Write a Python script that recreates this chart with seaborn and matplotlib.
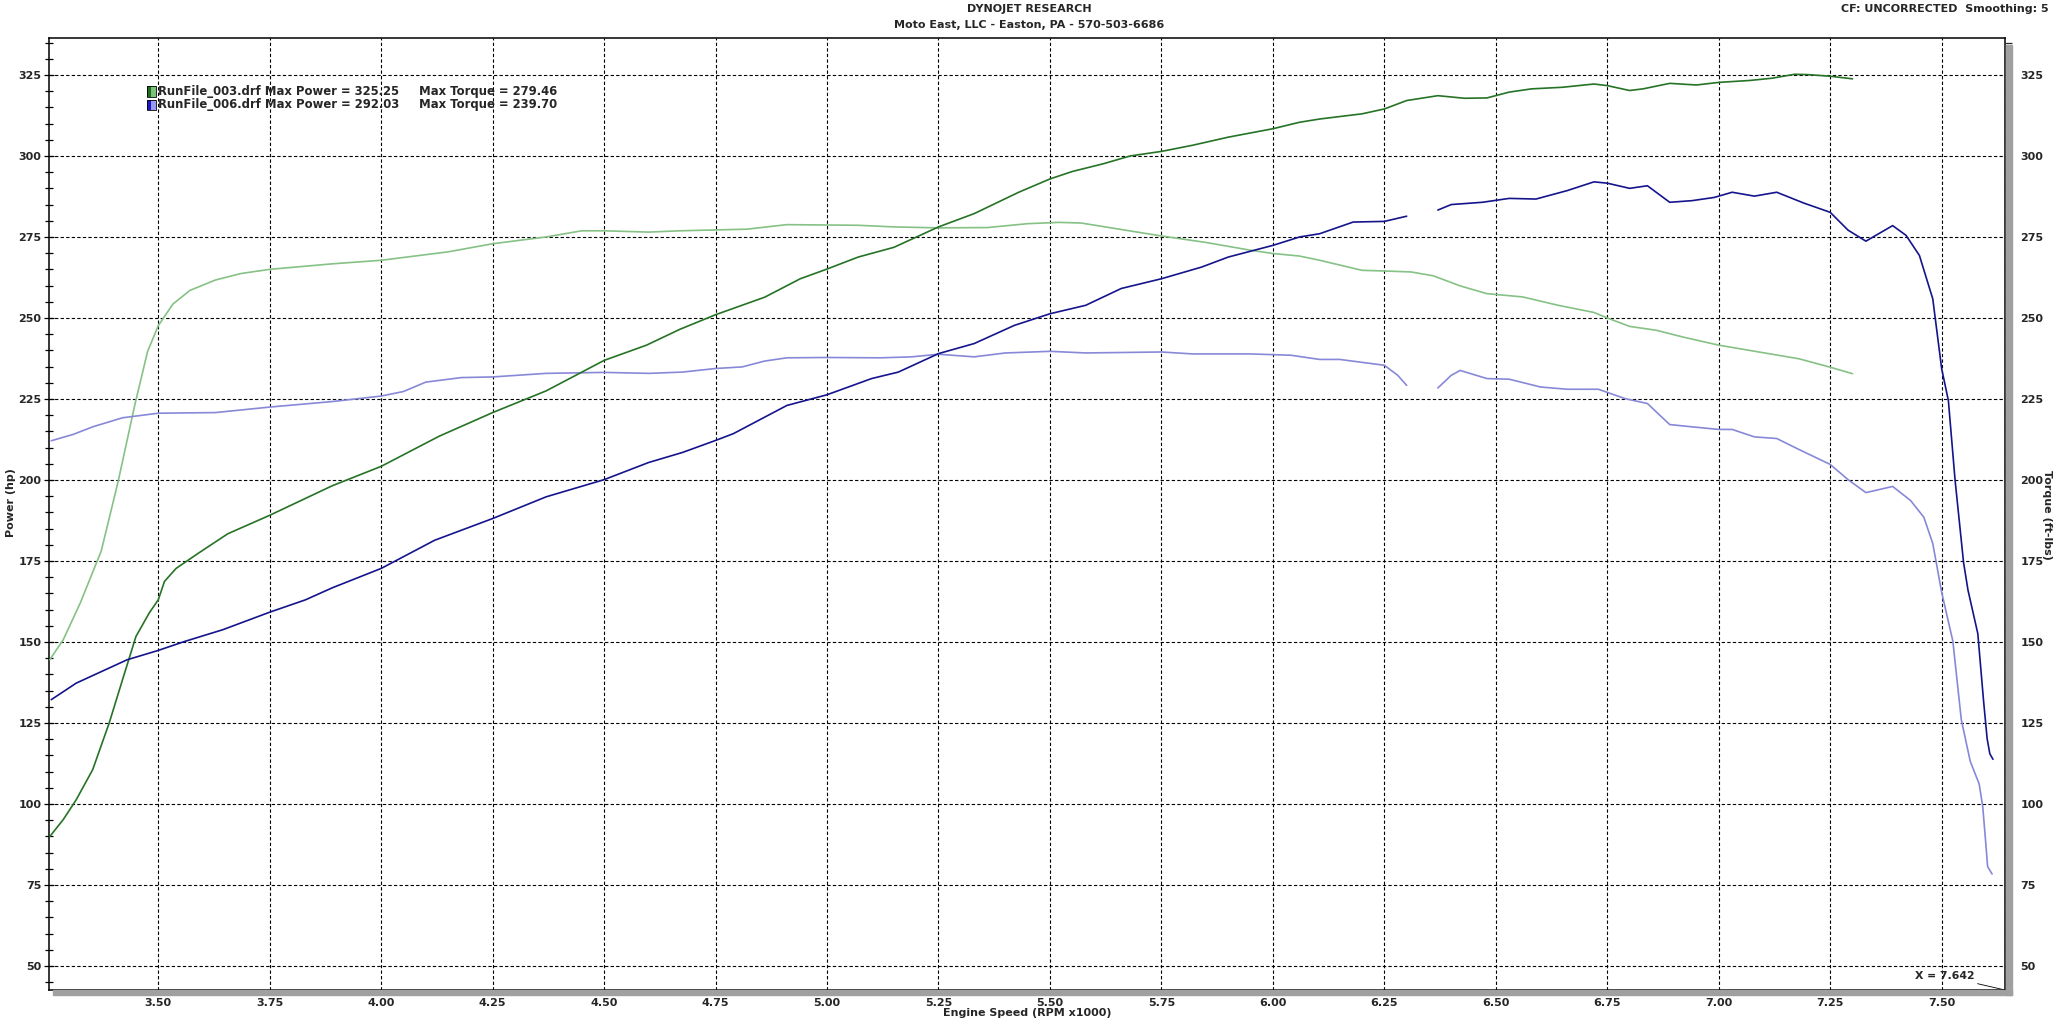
import numpy as np
import pandas as pd
import matplotlib
matplotlib.use("Agg")
import matplotlib.pyplot as plt
import seaborn as sns
from matplotlib.patches import Rectangle
from matplotlib.ticker import MultipleLocator, FixedLocator

# --- data (RPM x1000) ---
rpm_pwr_003 = [3.257, 3.287, 3.316, 3.353, 3.39, 3.42, 3.45, 3.48, 3.50, 3.514, 3.54, 3.59, 3.656,
               3.75, 3.89, 4.00, 4.13, 4.25, 4.37, 4.50, 4.595, 4.67, 4.75, 4.86, 4.94, 5.00, 5.07,
               5.15, 5.25, 5.33, 5.43, 5.50, 5.55, 5.62, 5.68, 5.75, 5.82, 5.90, 6.00, 6.06, 6.105,
               6.20, 6.25, 6.30, 6.37, 6.43, 6.48, 6.53, 6.58, 6.65, 6.72, 6.75, 6.80, 6.83, 6.89,
               6.95, 7.00, 7.07, 7.12, 7.17, 7.20, 7.25, 7.30]
pwr_003 = [90, 95.2, 101.3, 110.6, 125, 138.4, 151.7, 159, 163, 168.7, 172.7, 177.4, 183.4,
           189.1, 198.2, 204.2, 213.5, 220.8, 227.5, 236.9, 241.6, 246.5, 251, 256.4, 262.1, 265.1, 268.8,
           271.8, 278.1, 282.2, 288.8, 292.9, 295.2, 297.6, 300, 301.4, 303.3, 305.8, 308.4, 310.4, 311.4,
           313, 314.5, 317.1, 318.6, 317.8, 317.9, 319.7, 320.7, 321.2, 322.2, 321.7, 320.2, 320.7, 322.4,
           321.9, 322.7, 323.3, 324, 325.2, 325.1, 324.6, 323.8]

rpm_trq_003 = [3.257, 3.287, 3.325, 3.372, 3.41, 3.448, 3.476, 3.50, 3.533, 3.571, 3.628, 3.685, 3.75,
               3.89, 4.00, 4.15, 4.25, 4.37, 4.45, 4.50, 4.60, 4.67, 4.82, 4.91, 5.07, 5.15, 5.25,
               5.36, 5.45, 5.52, 5.57, 5.66, 5.75, 5.85, 5.95, 6.00, 6.06, 6.105, 6.20, 6.25, 6.31,
               6.36, 6.42, 6.48, 6.56, 6.64, 6.72, 6.75, 6.80, 6.86, 6.92, 7.00, 7.09, 7.18, 7.25, 7.30]
trq_003 = [144.6, 150.7, 162, 178, 199.5, 223.5, 239.6, 247.6, 254.3, 258.5, 261.7, 263.7, 265,
           266.7, 267.8, 270.4, 272.9, 275, 276.9, 276.9, 276.5, 276.9, 277.4, 278.8, 278.6, 278.1, 277.8,
           277.9, 279.1, 279.5, 279.3, 277.3, 275.3, 273.3, 270.9, 269.9, 269.1, 267.8, 264.7, 264.5, 264.2,
           263, 259.9, 257.5, 256.5, 253.9, 251.7, 250, 247.4, 246.2, 244.1, 241.6, 239.5, 237.4, 234.8, 232.8]

rpm_pwr_006 = [3.26, 3.316, 3.43, 3.50, 3.56, 3.645, 3.75, 3.83, 3.89, 4.00, 4.12, 4.25, 4.37, 4.50,
               4.60, 4.676, 4.75, 4.79, 4.91, 5.00, 5.10, 5.16, 5.25, 5.33, 5.42, 5.50, 5.58, 5.66,
               5.75, 5.84, 5.90, 6.00, 6.06, 6.105, 6.18, 6.25, 6.30, 6.335, 6.37, 6.40, 6.47, 6.53,
               6.59, 6.66, 6.72, 6.75, 6.80, 6.84, 6.89, 6.94, 6.99, 7.03, 7.08, 7.13, 7.19, 7.25,
               7.29, 7.33, 7.39, 7.42, 7.45, 7.48, 7.50, 7.515, 7.53, 7.549, 7.559, 7.581, 7.594,
               7.602, 7.608, 7.615]
pwr_006 = [132.2, 137.3, 144.5, 147.4, 150.2, 153.8, 159.2, 163, 166.7, 172.7, 181.4, 188.1, 194.8, 200.1,
           205.4, 208.5, 212.2, 214.3, 223, 226.3, 231.3, 233.3, 239, 242.1, 247.7, 251.3, 253.9, 259.1,
           262.1, 265.7, 268.8, 272.4, 275, 276, 279.6, 279.8, 281.4, np.nan, 283.3, 285, 285.7, 286.9,
           286.7, 289.3, 292.0, 291.6, 290, 290.8, 285.7, 286.2, 287.2, 288.8, 287.6, 288.8, 285.5, 282.6,
           277.1, 273.7, 278.5, 275.5, 269.3, 255.9, 234.3, 224.5, 200, 174.6, 166, 152.6, 131.7,
           120.1, 115.5, 113.8]

rpm_trq_006 = [3.26, 3.31, 3.353, 3.42, 3.50, 3.628, 3.75, 3.89, 4.00, 4.05, 4.10, 4.18, 4.25, 4.37,
               4.50, 4.60, 4.676, 4.75, 4.81, 4.86, 4.91, 5.00, 5.12, 5.19, 5.25, 5.33, 5.40, 5.50,
               5.58, 5.75, 5.82, 5.95, 6.04, 6.105, 6.15, 6.25, 6.28, 6.30, 6.335, 6.37, 6.40, 6.42,
               6.48, 6.53, 6.60, 6.66, 6.73, 6.79, 6.84, 6.89, 6.94, 7.00, 7.03, 7.08, 7.13, 7.18,
               7.25, 7.29, 7.33, 7.39, 7.43, 7.46, 7.48, 7.50, 7.525, 7.544, 7.564, 7.584, 7.592,
               7.599, 7.603, 7.613]
trq_006 = [212.1, 214.1, 216.4, 219.2, 220.6, 220.8, 222.5, 224.2, 225.9, 227.3, 230.2, 231.6, 231.8, 232.9,
           233.2, 232.9, 233.3, 234.4, 234.9, 236.7, 237.7, 237.8, 237.7, 238, 238.8, 238, 239.2, 239.7,
           239.2, 239.5, 238.9, 238.9, 238.5, 237.2, 237.2, 235.4, 232.3, 229.2, np.nan, 228.4, 232.3, 233.8,
           231.3, 231.1, 228.7, 228, 228, 225.1, 223.6, 217.1, 216.4, 215.6, 215.6, 213.3, 212.8, 209.4,
           204.8, 200.1, 196.1, 198, 193.7, 188.5, 180.4, 165.3, 150.3, 126, 113.2, 106.2, 99.3,
           87.7, 80.7, 78.4]

legend_rows = ["RunFile_003.drf Max Power = 325.25", "RunFile_006.drf Max Power = 292.03"]
legend_torque = ["Max Torque = 279.46", "Max Torque = 239.70"]

W, H = 2058, 1025
sns.set_style("white")
plt.rcParams['font.family'] = ['DejaVu Sans']
fig = plt.figure(figsize=(W / 100, H / 100), dpi=100)

L, R, T, B = 49, 2005, 38, 990
ax = fig.add_axes([L / W, 1 - B / H, (R - L) / W, (B - T) / H])
XMIN, XMAX, YMIN, YMAX = 3.255, 7.642, 42.6, 336.4


def draw(rpm, vals, color):
    df = pd.DataFrame({"rpm": rpm, "v": vals})
    seg = df["v"].isna().cumsum()
    for _, part in df.dropna().groupby(seg[df["v"].notna()]):
        sns.lineplot(data=part, x="rpm", y="v", color=color, lw=1.2, ax=ax,
                     sort=False, estimator=None, zorder=3)


draw(rpm_trq_003, trq_003, "#86c186")
draw(rpm_trq_006, trq_006, "#8888d8")
draw(rpm_pwr_003, pwr_003, "#267326")
draw(rpm_pwr_006, pwr_006, "#14148c")

ax.set_xlim(XMIN, XMAX)
ax.set_ylim(YMIN, YMAX)
ax.xaxis.set_major_locator(FixedLocator(np.arange(3.5, 7.51, 0.25)))
ax.xaxis.set_minor_locator(MultipleLocator(0.05))
ax.yaxis.set_major_locator(MultipleLocator(25))
ax.yaxis.set_minor_locator(MultipleLocator(5))
ax.set_xticklabels([f"{v:.2f}" for v in np.arange(3.5, 7.51, 0.25)])
ax.grid(True, which="major", color="black", ls=(0, (3, 2)), lw=0.8)
ax.set_xlabel("")
ax.set_ylabel("")
for s in ["top", "left", "bottom", "right"]:
    ax.spines[s].set_color("black")
    ax.spines[s].set_linewidth(1.1)
ax.tick_params(which="both", direction="inout", color="black", width=0.9,
               labelsize=8, pad=2)
ax.tick_params(which="major", length=7)
ax.tick_params(which="minor", length=6)
ax.tick_params(axis="y", right=False)
for lab in ax.get_xticklabels() + ax.get_yticklabels():
    lab.set_fontweight("bold")

ax2 = ax.twinx()
ax2.set_ylim(YMIN, YMAX)
ax2.yaxis.set_major_locator(MultipleLocator(25))
ax2.yaxis.set_minor_locator(MultipleLocator(5))
ax2.tick_params(which="both", direction="out", length=5, width=0.9, labelsize=8, pad=6)
for lab in ax2.get_yticklabels():
    lab.set_fontweight("bold")
for s in ax2.spines.values():
    s.set_visible(False)

# drop shadow on right and bottom
fig.patches.append(Rectangle(((R + 1) / W, 1 - (B + 5) / H), 6 / W, (B - T - 2) / H,
                             transform=fig.transFigure, color="#a0a0a0", zorder=0))
fig.patches.append(Rectangle(((L + 4) / W, 1 - (B + 5) / H), (R - L + 3) / W, 5 / H,
                             transform=fig.transFigure, color="#a0a0a0", zorder=0))

# legend block
for i, (txt, tq) in enumerate(zip(legend_rows, legend_torque)):
    yc = 319.9 - i * 4.1
    dark, light = [("#1e6e1e", "#7cc27c"), ("#1818c8", "#9a9aee")][i]
    ax.add_patch(Rectangle((3.474, yc - 1.6), 0.010, 3.2, facecolor=dark, edgecolor="none", zorder=4))
    ax.add_patch(Rectangle((3.484, yc - 1.6), 0.010, 3.2, facecolor=light, edgecolor="none", zorder=4))
    ax.add_patch(Rectangle((3.474, yc - 1.6), 0.020, 3.2, facecolor="none", edgecolor="black", lw=0.6, zorder=5))
    ax.text(3.499, yc, txt, fontsize=8.4, fontweight="bold", va="center", ha="left", zorder=5)
    ax.text(4.085, yc, tq, fontsize=8.4, fontweight="bold", va="center", ha="left", zorder=5)

ax.annotate("X = 7.642", xy=(XMAX, YMIN), xytext=(7.573, 46.9), fontsize=7.8, fontweight="bold",
            ha="right", va="center",
            arrowprops=dict(arrowstyle="-", lw=0.6, color="black", shrinkA=0, shrinkB=0))

fig.text(0.5, 1 - 9 / H, "DYNOJET RESEARCH", ha="center", va="center", fontsize=8, fontweight="bold")
fig.text(0.5, 1 - 25 / H, "Moto East, LLC - Easton, PA - 570-503-6686", ha="center", va="center",
         fontsize=8, fontweight="bold")
fig.text(1 - 9 / W, 1 - 9 / H, "CF: UNCORRECTED  Smoothing: 5", ha="right", va="center",
         fontsize=8, fontweight="bold")
fig.text(0.499, 1 - 1013 / H, "Engine Speed (RPM x1000)", ha="center", va="center",
         fontsize=8, fontweight="bold")
fig.text(11 / W, 1 - 503 / H, "Power (hp)", ha="center", va="center", rotation=90,
         fontsize=8, fontweight="bold")
fig.text(2047 / W, 1 - 515 / H, "Torque (ft-lbs)", ha="center", va="center", rotation=-90,
         fontsize=8, fontweight="bold")

fig.savefig("out.png", dpi=100, facecolor="white")
